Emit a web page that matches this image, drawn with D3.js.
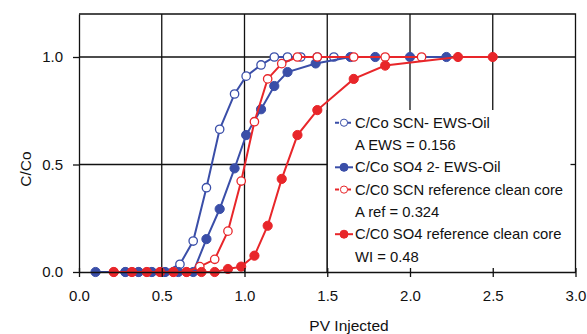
<!DOCTYPE html>
<html>
<head>
	<meta charset="utf-8">
	<title>C/Co breakthrough</title>
	<script src="https://cdn.jsdelivr.net/npm/d3@7"></script>
	<style type="text/css">
		body { margin: 0; background: #fff; }
		text { font-family: "Liberation Sans", Arial, sans-serif; fill: #111; }
	</style>
</head>
<body>
	<script type="text/javascript">
		// Data (PV injected vs C/Co)
		var scnEwsX = [0.28, 0.36, 0.44, 0.52, 0.61, 0.69, 0.77, 0.85, 0.94, 1.01, 1.10, 1.18, 1.26, 1.34, 1.44, 1.54];
		var scnEwsY = [0, 0, 0, 0, 0.036, 0.144, 0.392, 0.664, 0.828, 0.911, 0.963, 1.0, 1.0, 1.0, 1.0, 1.0];

		var so4EwsX = [0.1, 0.28, 0.36, 0.44, 0.52, 0.6, 0.69, 0.77, 0.85, 0.94, 1.01, 1.10, 1.18, 1.26, 1.43, 1.64, 1.79, 2.0, 2.22];
		var so4EwsY = [0, 0, 0, 0, 0, 0, 0, 0.153, 0.293, 0.482, 0.637, 0.757, 0.865, 0.93, 0.97, 1.0, 1.0, 1.0, 1.0];

		var scnRefX = [0.21, 0.32, 0.41, 0.49, 0.57, 0.65, 0.73, 0.82, 0.90, 0.98, 1.06, 1.14, 1.225, 1.32, 1.44, 1.66, 1.85, 2.07];
		var scnRefY = [0, 0, 0, 0, 0, 0, 0.025, 0.059, 0.19, 0.423, 0.699, 0.898, 0.969, 1.0, 1.0, 1.0, 1.0, 1.0];

		var so4RefX = [0.21, 0.32, 0.41, 0.49, 0.57, 0.65, 0.74, 0.82, 0.90, 0.98, 1.06, 1.14, 1.225, 1.32, 1.44, 1.66, 1.85, 2.29, 2.5];
		var so4RefY = [0, 0, 0, 0, 0, 0, 0, 0, 0.014, 0.025, 0.076, 0.215, 0.433, 0.637, 0.753, 0.898, 0.96, 1.0, 1.0];

		var xTicks = [0, 0.5, 1.0, 1.5, 2.0, 2.5, 3.0];
		var yTicks = [0, 0.5, 1.0];

		var legendLines = [
			{ text: "C/Co SCN- EWS-Oil", key: 0 },
			{ text: "A EWS = 0.156", key: -1 },
			{ text: "C/Co SO4 2- EWS-Oil", key: 1 },
			{ text: "C/C0 SCN reference clean core", key: 2 },
			{ text: "A ref = 0.324", key: -1 },
			{ text: "C/C0 SO4 reference clean core", key: 3 },
			{ text: "WI = 0.48", key: -1 }
		];

		var blue = "#3a4ea8";
		var red = "#e8262a";

		var series = [
			{ xs: scnEwsX, ys: scnEwsY, color: blue, open: true },
			{ xs: so4EwsX, ys: so4EwsY, color: blue, open: false },
			{ xs: scnRefX, ys: scnRefY, color: red, open: true },
			{ xs: so4RefX, ys: so4RefY, color: red, open: false }
		];

		var width = 587;
		var height = 334;

		var svg = d3.select("body").append("svg")
			.attr("width", width)
			.attr("height", height);

		// Scales
		var x = d3.scaleLinear().domain([0, 3]).range([79, 575.5]);
		var y = d3.scaleLinear().domain([0, 1.2]).range([272, 14]);

		// Grid lines
		svg.append("g")
			.selectAll("line")
			.data([0.5, 1.0, 1.5, 2.0, 2.5])
			.enter().append("line")
			.attr("x1", function(d) { return x(d); })
			.attr("x2", function(d) { return x(d); })
			.attr("y1", y(1.2))
			.attr("y2", y(0))
			.attr("stroke", "#111")
			.attr("stroke-width", 1.3);

		svg.append("g")
			.selectAll("line")
			.data([0.5, 1.0])
			.enter().append("line")
			.attr("x1", x(0))
			.attr("x2", x(3))
			.attr("y1", function(d) { return y(d); })
			.attr("y2", function(d) { return y(d); })
			.attr("stroke", "#111")
			.attr("stroke-width", 1.3);

		// Series lines and markers
		var line = d3.line()
			.x(function(d) { return x(d[0]); })
			.y(function(d) { return y(d[1]); });

		series.forEach(function(s) {
			var pts = d3.zip(s.xs, s.ys);
			svg.append("path")
				.datum(pts)
				.attr("d", line)
				.attr("fill", "none")
				.attr("stroke", s.color)
				.attr("stroke-width", 2);
			svg.append("g")
				.selectAll("circle")
				.data(pts)
				.enter().append("circle")
				.attr("cx", function(d) { return x(d[0]); })
				.attr("cy", function(d) { return y(d[1]); })
				.attr("r", s.open ? 4.2 : 4.6)
				.attr("fill", s.open ? "#fff" : s.color)
				.attr("stroke", s.color)
				.attr("stroke-width", s.open ? 1.3 : 1);
		});

		// Legend box (covers grid)
		var lgX = x(1.5), lgY = 110;
		svg.append("rect")
			.attr("x", lgX)
			.attr("y", lgY)
			.attr("width", x(3) - lgX)
			.attr("height", y(0) - lgY)
			.attr("fill", "#fff");
		svg.append("line")
			.attr("x1", lgX).attr("x2", lgX)
			.attr("y1", lgY).attr("y2", y(0))
			.attr("stroke", "#111").attr("stroke-width", 1.3);

		var lg = svg.append("g");
		legendLines.forEach(function(l, i) {
			var ly = 122.7 + i * 22.3;
			if (l.key >= 0) {
				var s = series[l.key];
				lg.append("line")
					.attr("x1", 335).attr("x2", 353)
					.attr("y1", ly).attr("y2", ly)
					.attr("stroke", s.color)
					.attr("stroke-width", 2)
					.attr("stroke-dasharray", s.open ? "4,2" : null);
				lg.append("circle")
					.attr("cx", 344).attr("cy", ly)
					.attr("r", s.open ? 3.6 : 4)
					.attr("fill", s.open ? "#fff" : s.color)
					.attr("stroke", s.color)
					.attr("stroke-width", 1);
			}
			lg.append("text")
				.attr("x", 355)
				.attr("y", ly)
				.attr("dy", "0.35em")
				.style("font-size", "14.8px")
				.text(l.text);
		});

		// Frame
		svg.append("path")
			.attr("d", "M" + x(0) + "," + y(1.2) + "H" + x(3) + "V" + y(0))
			.attr("fill", "none")
			.attr("stroke", "#111")
			.attr("stroke-width", 1.3);

		// Right side inner tick
		svg.append("line")
			.attr("x1", x(3) - 5).attr("x2", x(3))
			.attr("y1", y(0.5)).attr("y2", y(0.5))
			.attr("stroke", "#111").attr("stroke-width", 1.3);

		// Axes
		var xAxis = svg.append("g")
			.attr("transform", "translate(0," + y(0) + ")")
			.call(d3.axisBottom(x).tickValues(xTicks).tickFormat(d3.format(".1f"))
				.tickSizeInner(5).tickSizeOuter(0).tickPadding(13));
		xAxis.selectAll(".tick line").attr("y1", -4).attr("stroke", "#111").attr("stroke-width", 1.3);
		xAxis.select(".domain").attr("stroke", "#111").attr("stroke-width", 1.3);
		xAxis.selectAll("text").style("font-size", "15px").attr("fill", "#111")
			.style("font-family", "'Liberation Sans', Arial, sans-serif");

		var yAxis = svg.append("g")
			.attr("transform", "translate(" + x(0) + ",0)")
			.call(d3.axisLeft(y).tickValues(yTicks).tickFormat(d3.format(".1f"))
				.tickSizeInner(6).tickSizeOuter(0).tickPadding(10));
		yAxis.selectAll(".tick line").attr("stroke", "#111").attr("stroke-width", 1.3);
		yAxis.select(".domain").attr("stroke", "#111").attr("stroke-width", 1.3);
		yAxis.selectAll("text").style("font-size", "15px").attr("fill", "#111")
			.style("font-family", "'Liberation Sans', Arial, sans-serif");

		// Axis titles
		svg.append("text")
			.attr("x", 349)
			.attr("y", 331)
			.attr("text-anchor", "middle")
			.style("font-size", "15.5px")
			.text("PV Injected");

		svg.append("text")
			.attr("transform", "translate(31,169) rotate(-90)")
			.attr("text-anchor", "middle")
			.style("font-size", "15.5px")
			.text("C/Co");
	</script>
</body>
</html>
